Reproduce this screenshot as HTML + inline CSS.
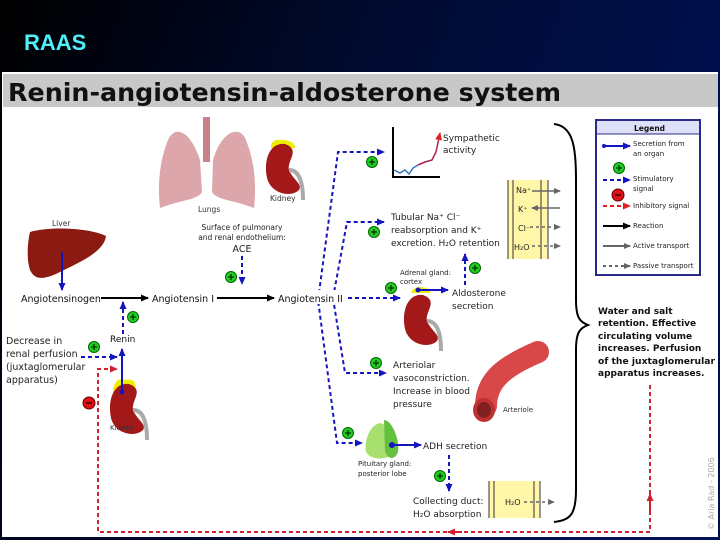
<!DOCTYPE html>
<html><head><meta charset="utf-8"><style>
body{margin:0;width:720px;height:540px;overflow:hidden;background:#000}
svg{display:block}
text{font-family:"DejaVu Sans","Liberation Sans",sans-serif}
</style></head><body>
<svg width="720" height="540" viewBox="0 0 720 540" xmlns="http://www.w3.org/2000/svg">
<defs>
<linearGradient id="bg" x1="0" y1="0" x2="1" y2="0.3">
<stop offset="0" stop-color="#000"/><stop offset="0.5" stop-color="#000a30"/><stop offset="1" stop-color="#001050"/></linearGradient>
<marker id="ab" markerUnits="userSpaceOnUse" markerWidth="8" markerHeight="8" refX="7" refY="4" orient="auto"><path d="M0,0.5L8,4L0,7.5z" fill="#1515c0"/></marker>
<marker id="ak" markerUnits="userSpaceOnUse" markerWidth="8" markerHeight="8" refX="7" refY="4" orient="auto"><path d="M0,0.5L8,4L0,7.5z" fill="#000"/></marker>
<marker id="ar" markerUnits="userSpaceOnUse" markerWidth="8" markerHeight="8" refX="7" refY="4" orient="auto"><path d="M0,0.5L8,4L0,7.5z" fill="#e02020"/></marker>
<marker id="ag" markerUnits="userSpaceOnUse" markerWidth="7" markerHeight="7" refX="6" refY="3.5" orient="auto"><path d="M0,0.5L7,3.5L0,6.5z" fill="#666"/></marker>
<marker id="ared" markerUnits="userSpaceOnUse" markerWidth="8" markerHeight="8" refX="7" refY="4" orient="auto"><path d="M0,0.5L8,4L0,7.5z" fill="#d02030"/></marker>
<g id="plus"><circle r="5.5" fill="#2c2" stroke="#060" stroke-width="1"/><path d="M-3,0H3M0,-3V3" stroke="#030" stroke-width="1.3"/></g>
<g id="minus"><circle r="6" fill="#d11" stroke="#600" stroke-width="1"/><path d="M-3,0H3" stroke="#400" stroke-width="1.5"/></g>
<g id="kid"><path d="M18,0C4,-2 -4,14 0,34C4,50 24,54 32,46C36,40 26,36 22,26C20,16 34,6 18,0z" fill="#a31818"/><path d="M22,26C30,26 36,34 36,56" stroke="#aaa" stroke-width="4" fill="none"/></g>
</defs>
<rect width="720" height="540" fill="url(#bg)"/>
<text x="24" y="50" font-weight="bold" font-size="22" fill="#4ef0f8" style="font-family:'Liberation Sans',sans-serif">RAAS</text>
<rect x="2" y="72" width="716" height="465" fill="#fff"/>
<rect x="3" y="74" width="715" height="33" fill="#c8c8c8"/>
<text x="8" y="101" font-weight="bold" font-size="25" fill="#111" textLength="553" lengthAdjust="spacingAndGlyphs">Renin-angiotensin-aldosterone system</text>

<!-- lungs -->
<path d="M203,117h7v45h-7z" fill="#c98088"/>
<path d="M200,160C190,130 175,125 168,140C158,165 158,190 160,208C180,200 198,200 202,192z" fill="#dca6aa"/>
<path d="M213,160C222,130 240,125 246,140C256,165 256,190 254,208C234,200 216,200 212,192z" fill="#dca6aa"/>
<text x="198" y="212" font-size="7.5" fill="#333">Lungs</text>
<g transform="translate(267,144)"><path d="M14,-4C4,-6 2,4 6,6L28,4C28,-2 22,-4 14,-4z" fill="#ee0"/><use href="#kid"/></g>
<text x="270" y="201" font-size="7.5" fill="#333">Kidney</text>
<!-- liver -->
<path d="M30,232C50,226 90,228 106,236C104,252 80,262 60,272C40,282 34,278 30,270C26,258 28,240 30,232z" fill="#8b1a12"/>
<text x="52" y="226" font-size="7.5" fill="#333">Liver</text>
<line x1="62" y1="252" x2="62" y2="290" stroke="#1515c0" stroke-width="2" marker-end="url(#ab)"/>
<text x="242" y="230" font-size="7.5" fill="#222" text-anchor="middle">Surface of pulmonary</text>
<text x="242" y="240" font-size="7.5" fill="#222" text-anchor="middle">and renal endothelium:</text>
<text x="242" y="252" font-size="9.5" fill="#222" text-anchor="middle">ACE</text>
<line x1="242" y1="256" x2="242" y2="284" stroke="#1515c0" stroke-width="2" stroke-dasharray="4,3" marker-end="url(#ab)"/>
<use href="#plus" x="231" y="277"/>

<!-- blue branches -->
<path d="M337,298L318,300L337,443H362" stroke="#1515c0" stroke-width="2" stroke-dasharray="4,3" fill="none" marker-end="url(#ab)"/>
<path d="M318,300L338,152H384" stroke="#1515c0" stroke-width="2" stroke-dasharray="4,3" fill="none" marker-end="url(#ab)"/>
<path d="M333,298L347,222H384" stroke="#1515c0" stroke-width="2" stroke-dasharray="4,3" fill="none" marker-end="url(#ab)"/>
<path d="M333,298L345,373H386" stroke="#1515c0" stroke-width="2" stroke-dasharray="4,3" fill="none" marker-end="url(#ab)"/>
<path d="M348,298H400" stroke="#1515c0" stroke-width="2" stroke-dasharray="4,3" fill="none" marker-end="url(#ab)"/>
<rect x="276" y="290" width="70" height="14" fill="#fff"/>

<text x="21" y="302" font-size="9.5" fill="#111">Angiotensinogen</text>
<line x1="101" y1="298" x2="148" y2="298" stroke="#000" stroke-width="2" marker-end="url(#ak)"/>
<text x="152" y="302" font-size="9.5" fill="#111">Angiotensin I</text>
<line x1="217" y1="298" x2="274" y2="298" stroke="#000" stroke-width="2" marker-end="url(#ak)"/>
<text x="278" y="302" font-size="9.5" fill="#111">Angiotensin II</text>

<line x1="123" y1="334" x2="123" y2="302" stroke="#1515c0" stroke-width="2" stroke-dasharray="4,3" marker-end="url(#ab)"/>
<use href="#plus" x="133" y="317"/>
<text x="110" y="342" font-size="9" fill="#111">Renin</text>
<g font-size="9.5" fill="#222">
<text x="6" y="344">Decrease in</text>
<text x="6" y="357">renal perfusion</text>
<text x="6" y="370">(juxtaglomerular</text>
<text x="6" y="383">apparatus)</text></g>
<use href="#plus" x="94" y="347"/>
<line x1="81" y1="357" x2="117" y2="357" stroke="#1515c0" stroke-width="2" stroke-dasharray="4,3" marker-end="url(#ab)"/>
<g transform="translate(111,384)"><path d="M14,-4C4,-8 2,4 2,8L24,8C26,-2 22,-6 14,-4z" fill="#ee0"/><use href="#kid"/></g>
<text x="110" y="430" font-size="7" fill="#333">Kidney</text>
<line x1="122" y1="392" x2="122" y2="349" stroke="#1515c0" stroke-width="2" marker-end="url(#ab)"/>
<circle cx="122" cy="392" r="2.5" fill="#1515c0"/>
<use href="#minus" x="89" y="403"/>
<path d="M650,385V532H98V369H117" stroke="#d02030" stroke-width="2" stroke-dasharray="4,3" fill="none" marker-end="url(#ared)"/>
<line x1="650" y1="512" x2="650" y2="494" stroke="#d02030" stroke-width="2" marker-end="url(#ared)"/>
<line x1="462" y1="532" x2="448" y2="532" stroke="#d02030" stroke-width="2" marker-end="url(#ared)"/>

<use href="#plus" x="372" y="162"/>
<use href="#plus" x="374" y="232"/>
<use href="#plus" x="391" y="288"/>
<use href="#plus" x="475" y="268"/>
<use href="#plus" x="376" y="363"/>
<use href="#plus" x="348" y="433"/>
<use href="#plus" x="440" y="476"/>

<!-- graph -->
<path d="M393,127V177H440" stroke="#000" stroke-width="2" fill="none"/>
<path d="M394,170L400,173L405,170L409,174L413,168L418,165" stroke="#3377bb" stroke-width="1.5" fill="none"/>
<path d="M418,165L425,162L432,160L436,152L440,133" stroke="#b02050" stroke-width="1.5" fill="none" marker-end="url(#ar)"/>
<text x="443" y="141" font-size="9" fill="#222">Sympathetic</text>
<text x="443" y="153" font-size="9" fill="#222">activity</text>
<text x="391" y="220" font-size="9" fill="#222">Tubular Na⁺ Cl⁻</text>
<text x="391" y="233" font-size="9" fill="#222">reabsorption and K⁺</text>
<text x="391" y="246" font-size="9" fill="#222">excretion. H₂O retention</text>
<rect x="508" y="180" width="40" height="79" fill="#fff6a8"/>
<path d="M508,180V259M513,180V259M541,180V259M548,180V259" stroke="#333" stroke-width="1"/>
<g font-size="8" fill="#222"><text x="516" y="193">Na⁺</text><text x="518" y="212">K⁺</text><text x="518" y="231">Cl⁻</text><text x="514" y="250">H₂O</text></g>
<line x1="532" y1="191" x2="560" y2="191" stroke="#666" stroke-width="1.5" marker-end="url(#ag)"/>
<line x1="560" y1="208" x2="532" y2="208" stroke="#666" stroke-width="1.5" marker-end="url(#ag)"/>
<line x1="530" y1="227" x2="560" y2="227" stroke="#666" stroke-width="1.5" stroke-dasharray="3,3" marker-end="url(#ag)"/>
<line x1="532" y1="246" x2="560" y2="246" stroke="#666" stroke-width="1.5" stroke-dasharray="3,3" marker-end="url(#ag)"/>

<!-- adrenal -->
<text x="400" y="275" font-size="7" fill="#222">Adrenal gland:</text>
<text x="400" y="284" font-size="7" fill="#222">cortex</text>
<g transform="translate(405,295)"><path d="M6,-2C8,-10 22,-10 26,-2z" fill="#ee0"/><use href="#kid"/></g>
<line x1="418" y1="290" x2="448" y2="290" stroke="#1515c0" stroke-width="2" marker-end="url(#ab)"/>
<circle cx="418" cy="290" r="2.5" fill="#1515c0"/>
<text x="452" y="296" font-size="9" fill="#222">Aldosterone</text>
<text x="452" y="309" font-size="9" fill="#222">secretion</text>
<line x1="465" y1="285" x2="465" y2="254" stroke="#1515c0" stroke-width="2" stroke-dasharray="4,3" marker-end="url(#ab)"/>

<g font-size="9" fill="#222">
<text x="393" y="368">Arteriolar</text>
<text x="393" y="381">vasoconstriction.</text>
<text x="393" y="394">Increase in blood</text>
<text x="393" y="407">pressure</text></g>
<path d="M486,406C486,380 505,366 538,352" stroke="#d84848" stroke-width="22" fill="none" stroke-linecap="round"/>
<ellipse cx="484" cy="410" rx="11" ry="12" fill="#c03030"/>
<ellipse cx="484" cy="410" rx="7" ry="8" fill="#802020"/>
<text x="503" y="412" font-size="7" fill="#333">Arteriole</text>

<!-- pituitary -->
<path d="M380,423C370,425 364,440 366,452C370,460 385,460 392,455C396,445 392,425 380,423z" fill="#a8e070"/>
<path d="M384,420C392,420 400,440 398,452C394,462 386,458 385,450z" fill="#66c040"/>
<text x="358" y="466" font-size="7" fill="#222">Pituitary gland:</text>
<text x="358" y="476" font-size="7" fill="#222">posterior lobe</text>
<line x1="392" y1="445" x2="421" y2="445" stroke="#1515c0" stroke-width="2" marker-end="url(#ab)"/>
<circle cx="392" cy="445" r="3" fill="#1515c0"/>
<text x="423" y="449" font-size="9" fill="#222">ADH secretion</text>
<line x1="449" y1="455" x2="449" y2="491" stroke="#1515c0" stroke-width="2" stroke-dasharray="4,3" marker-end="url(#ab)"/>
<text x="413" y="504" font-size="9" fill="#222">Collecting duct:</text>
<text x="413" y="517" font-size="9" fill="#222">H₂O absorption</text>
<rect x="489" y="481" width="51" height="37" fill="#fff6a8"/>
<path d="M489,481V518M494,481V518M534,481V518M540,481V518" stroke="#333" stroke-width="1"/>
<text x="505" y="505" font-size="8" fill="#222">H₂O</text>
<line x1="524" y1="502" x2="554" y2="502" stroke="#666" stroke-width="1.5" stroke-dasharray="3,3" marker-end="url(#ag)"/>

<!-- brace -->
<path d="M554,124C574,126 576,150 576,180V300C576,318 580,322 588,325C580,328 576,332 576,350V490C576,515 570,520 554,522" stroke="#000" stroke-width="2" fill="none"/>
<g font-size="9" font-weight="bold" fill="#111">
<text x="598" y="314">Water and salt</text>
<text x="598" y="326">retention. Effective</text>
<text x="598" y="339">circulating volume</text>
<text x="598" y="351">increases. Perfusion</text>
<text x="598" y="364" textLength="117" lengthAdjust="spacingAndGlyphs">of the juxtaglomerular</text>
<text x="598" y="376">apparatus increases.</text>
</g>

<!-- legend -->
<rect x="596" y="120" width="104" height="155" fill="#fff" stroke="#2a2a88" stroke-width="2"/>
<rect x="597" y="121" width="102" height="13" fill="#dde0f8"/>
<line x1="597" y1="134" x2="699" y2="134" stroke="#2a2a88"/>
<text x="634" y="131" font-size="7.5" font-weight="bold" fill="#111">Legend</text>
<g font-size="7" fill="#222">
<line x1="603" y1="146" x2="630" y2="146" stroke="#1515c0" stroke-width="2" marker-end="url(#ab)"/><circle cx="604" cy="146" r="2" fill="#1515c0"/>
<text x="633" y="146">Secretion from</text><text x="633" y="156">an organ</text>
<use href="#plus" x="619" y="168"/>
<line x1="603" y1="180" x2="630" y2="180" stroke="#1515c0" stroke-width="2" stroke-dasharray="4,3" marker-end="url(#ab)"/>
<text x="633" y="181">Stimulatory</text><text x="633" y="191">signal</text>
<use href="#minus" x="618" y="195"/>
<line x1="603" y1="206" x2="630" y2="206" stroke="#e02020" stroke-width="2" stroke-dasharray="4,3" marker-end="url(#ar)"/>
<text x="633" y="208">Inhibitory signal</text>
<line x1="603" y1="226" x2="630" y2="226" stroke="#000" stroke-width="2" marker-end="url(#ak)"/>
<text x="633" y="228">Reaction</text>
<line x1="603" y1="246" x2="630" y2="246" stroke="#666" stroke-width="2" marker-end="url(#ag)"/>
<text x="633" y="248">Active transport</text>
<line x1="603" y1="266" x2="630" y2="266" stroke="#666" stroke-width="2" stroke-dasharray="3,3" marker-end="url(#ag)"/>
<text x="633" y="268">Passive transport</text>
</g>
<text transform="translate(714,530) rotate(-90)" font-size="8" fill="#aaa">© Aria Rad - 2006</text>
</svg>
</body></html>
